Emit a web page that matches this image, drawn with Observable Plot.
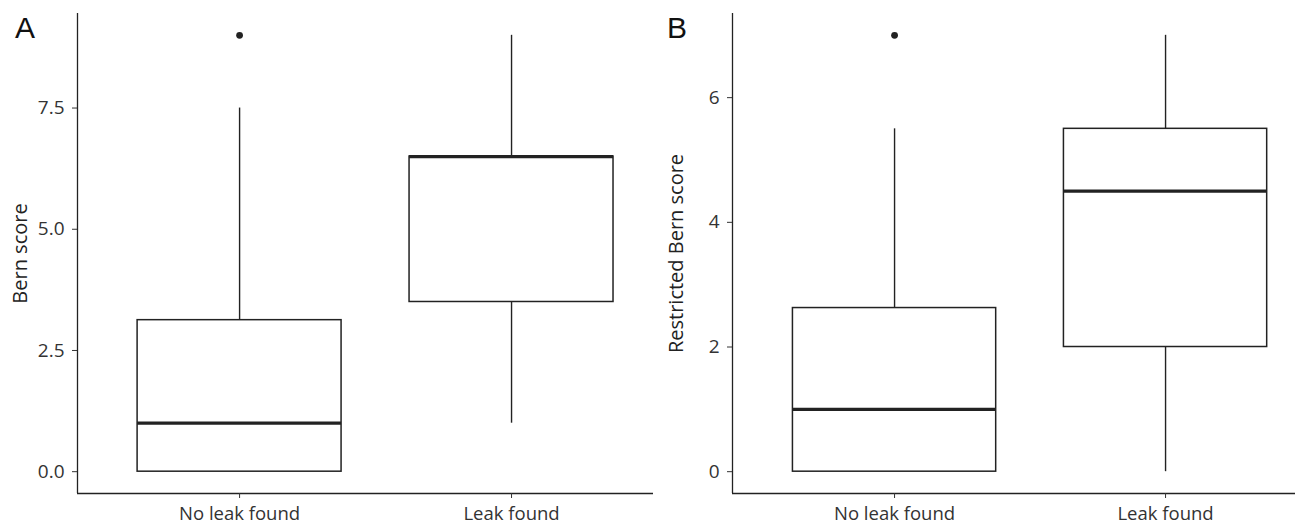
<!DOCTYPE html>
<html>
<head>
<meta charset="utf-8">
<script src="https://cdn.jsdelivr.net/npm/d3@7"></script>
<script src="https://cdn.jsdelivr.net/npm/@observablehq/plot@0.6"></script>
<style>
  html, body { margin: 0; padding: 0; background: #fff; }
  #wrap { position: relative; width: 1295px; height: 523px; overflow: hidden; }
  .panel { position: absolute; top: 0; }
  .panel svg { overflow: visible; }
  .panel [aria-label="y-axis label"] text { font-size: 20px; fill: #222; }
  .letter { position: absolute; font-family: "Liberation Sans", Arial, sans-serif; font-size: 30px; color: #111; line-height: 1; }
</style>
</head>
<body>
<div id="wrap">
  <div id="pa" class="panel" style="left:0px"></div>
  <div id="pb" class="panel" style="left:660px"></div>
  <div class="letter" style="left:15px; top:13px">A</div>
  <div class="letter" style="left:667px; top:13px">B</div>
</div>
<script>
// Categories
const categories = ["No leak found", "Leak found"];

// Panel A: Bern score
const aLowerWhisker = [0, 1];
const aQ1 = [0, 3.5];
const aMedian = [1, 6.5];
const aQ3 = [3.125, 6.5];
const aUpperWhisker = [7.5, 9];
const aOutliers = [9, null];
const aTicks = [0, 2.5, 5, 7.5];

// Panel B: Restricted Bern score
const bLowerWhisker = [0, 0];
const bQ1 = [0, 2];
const bMedian = [1, 4.5];
const bQ3 = [2.625, 5.5];
const bUpperWhisker = [5.5, 7];
const bOutliers = [7, null];
const bTicks = [0, 2, 4, 6];

const INK = "#222";
const FONT = "Open Sans";

function rows(lo, q1, med, q3, hi) {
  return categories.map((c, i) => ({pos: i + 1, cat: c, lo: lo[i], q1: q1[i], med: med[i], q3: q3[i], hi: hi[i]}));
}

function panel({width, marginLeft, marginRight, xDomain, yDomain, yTicks, yFormat, label, labelOffset, data, outliers}) {
  const half = 0.375;
  const pts = outliers.map((v, i) => ({pos: i + 1, v})).filter(d => d.v != null);
  return Plot.plot({
    width, height: 523,
    marginLeft, marginRight, marginTop: 13, marginBottom: 30,
    style: {fontFamily: FONT, fontSize: "18px", color: "#333", background: "white"},
    x: {domain: xDomain},
    y: {domain: yDomain},
    marks: [
      // whiskers
      Plot.ruleX(data, {x: "pos", y1: "q3", y2: "hi", stroke: INK, strokeWidth: 1.4}),
      Plot.ruleX(data, {x: "pos", y1: "lo", y2: "q1", stroke: INK, strokeWidth: 1.4}),
      // boxes
      Plot.rect(data, {x1: d => d.pos - half, x2: d => d.pos + half, y1: "q1", y2: "q3", fill: "white", stroke: INK, strokeWidth: 1.5}),
      // medians
      Plot.ruleY(data, {x1: d => d.pos - half, x2: d => d.pos + half, y: "med", stroke: INK, strokeWidth: 3.2}),
      // outliers
      Plot.dot(pts, {x: "pos", y: "v", r: 3.4, fill: INK, stroke: "none"}),
      // axis lines
      Plot.ruleX([xDomain[0]], {stroke: INK, strokeWidth: 1.3}),
      Plot.ruleY([yDomain[0]], {stroke: INK, strokeWidth: 1.3}),
      Plot.axisY({ticks: yTicks, tickFormat: yFormat, tickSize: 5, tickPadding: 8, fontSize: 19,
        label, labelAnchor: "center", labelOffset, labelArrow: "none", color: "#333"}),
      Plot.axisX({ticks: [1, 2], tickFormat: i => categories[i - 1], tickSize: 5, tickPadding: 8, fontSize: 18.5,
        label: null, color: "#333"})
    ]
  });
}

document.getElementById("pa").append(panel({
  width: 660, marginLeft: 77, marginRight: 7,
  xDomain: [0.404, 2.522], yDomain: [-0.45, 9.45],
  yTicks: aTicks, yFormat: d3.format(".1f"), label: "Bern score", labelOffset: 65,
  data: rows(aLowerWhisker, aQ1, aMedian, aQ3, aUpperWhisker), outliers: aOutliers
}));

document.getElementById("pb").append(panel({
  width: 635, marginLeft: 72, marginRight: 0,
  xDomain: [0.402, 2.4795], yDomain: [-0.35, 7.35],
  yTicks: bTicks, yFormat: d3.format("d"), label: "Restricted Bern score", labelOffset: 64,
  data: rows(bLowerWhisker, bQ1, bMedian, bQ3, bUpperWhisker), outliers: bOutliers
}));
</script>
</body>
</html>
